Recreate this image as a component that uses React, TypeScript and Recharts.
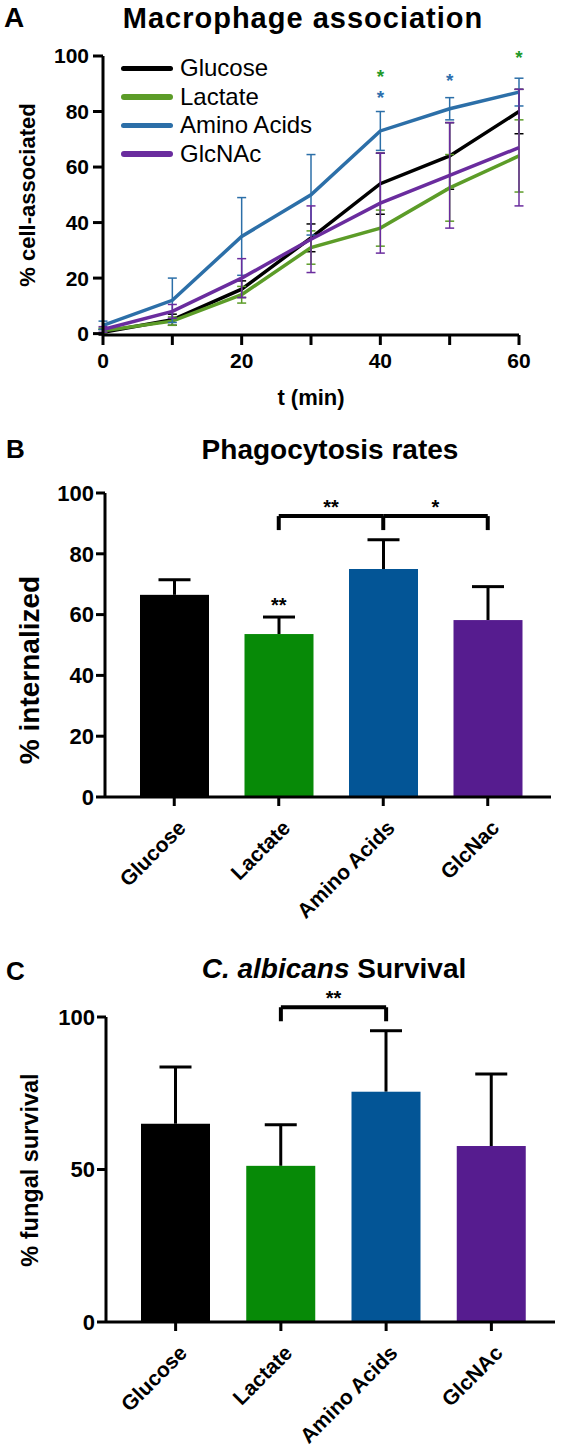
import {
  LineChart,
  Line,
  BarChart,
  Bar,
  Cell,
  XAxis,
  YAxis,
  ErrorBar,
  ReferenceDot,
  ReferenceLine,
} from "recharts";

const FONT = '"Liberation Sans", Arial, Helvetica, sans-serif';

// panel A: macrophage association over time
const times = [0, 10, 20, 30, 40, 50, 60];
const glucose = [0.5, 5, 16, 34.5, 54, 64, 80];
const glucoseSd = [1, 2, 3, 5, 11, 12, 8];
const lactate = [1, 4.5, 14, 31, 38, 52.5, 64];
const lactateSd = [1, 1.5, 3, 6, 6.5, 12, 13];
const amino = [3, 12, 35, 50, 73, 81, 87];
const aminoSd = [1.5, 8, 14, 14.5, 7, 4, 5];
const glcnac = [1.5, 8, 20, 34, 47, 57, 67];
const glcnacSd = [1, 2.5, 7, 12, 18, 19, 21];

const starTimes = [40, 40, 50, 60];
const starValues = [94.5, 87, 93, 101.5];
const starSeries = ["lactate", "amino", "amino", "lactate"];

// panels B and C
const groupsB = ["Glucose", "Lactate", "Amino Acids", "GlcNac"];
const internalized = [66.5, 53.6, 75, 58.2];
const internalizedSd = [5, 5.6, 9.6, 11];
const groupsC = ["Glucose", "Lactate", "Amino Acids", "GlcNAc"];
const survival = [65, 51.2, 75.5, 57.7];
const survivalSd = [18.6, 13.5, 20, 23.6];

const series = [
  { key: "glucose", name: "Glucose", color: "#000000" },
  { key: "lactate", name: "Lactate", color: "#5c9c28" },
  { key: "amino", name: "Amino Acids", color: "#2c6fa8" },
  { key: "glcnac", name: "GlcNAc", color: "#6a2c9e" },
];
const starColor: Record<string, string> = { lactate: "#1f9a2a", amino: "#2d6fae" };
const barColors = ["#000000", "#078a07", "#035596", "#561c8f"];

const lineData = times.map((t, i) => ({
  t,
  glucose: glucose[i],
  glucoseSd: glucoseSd[i],
  lactate: lactate[i],
  lactateSd: lactateSd[i],
  amino: amino[i],
  aminoSd: aminoSd[i],
  glcnac: glcnac[i],
  glcnacSd: glcnacSd[i],
}));
const dataB = groupsB.map((name, i) => ({ name, mean: internalized[i], sd: internalizedSd[i] }));
const dataC = groupsC.map((name, i) => ({ name, mean: survival[i], sd: survivalSd[i] }));

const axisStyle = { stroke: "#000", strokeWidth: 3 };
const tickA = { fill: "#000", fontSize: 21, fontWeight: 700, fontFamily: FONT };
const tickBC = { fill: "#000", fontSize: 22, fontWeight: 700, fontFamily: FONT };
const starFont = { fill: "#000", fontSize: 20, fontWeight: 700, fontFamily: FONT };

// bar with a one-sided (upward) SD whisker
const SdBar = (props: any) => {
  const { x, y, width, height, fill, payload } = props;
  const unit = payload.mean ? height / payload.mean : 0;
  const top = y - payload.sd * unit;
  const cx = x + width / 2;
  return (
    <g>
      <line x1={cx} y1={y} x2={cx} y2={top} stroke="#000" strokeWidth={3} />
      <line x1={cx - 16} y1={top} x2={cx + 16} y2={top} stroke="#000" strokeWidth={3} />
      <rect x={x} y={y} width={width} height={height} fill={fill} />
    </g>
  );
};

const SlantTick = (props: any) => {
  const { x, y, payload } = props;
  return (
    <text
      x={x}
      y={y}
      dx={-6}
      dy={24}
      transform={`rotate(-45 ${x} ${y})`}
      textAnchor="end"
      fontSize={21}
      fontWeight={700}
      fontFamily={FONT}
      fill="#000"
    >
      {payload.value}
    </text>
  );
};

const bracketLine = { stroke: "#000", strokeWidth: 4, ifOverflow: "visible" as const };

function ChartA() {
  return (
    <div style={{ position: "absolute", left: 0, top: 0 }}>
      <LineChart width={566} height={420} data={lineData} margin={{ top: 56, right: 47, left: 10, bottom: 15 }}>
        <XAxis
          dataKey="t"
          type="number"
          domain={[0, 60]}
          ticks={times}
          tickFormatter={(v: number) => (v % 20 === 0 ? String(v) : "")}
          axisLine={axisStyle}
          tickLine={axisStyle}
          tickSize={10}
          tickMargin={8}
          tick={tickA}
          height={70}
          label={{ value: "t (min)", position: "insideBottom", offset: 0, style: { fill: "#000", fontSize: 22, fontWeight: 700, fontFamily: FONT } }}
        />
        <YAxis
          domain={[0, 100]}
          ticks={[0, 20, 40, 60, 80, 100]}
          axisLine={axisStyle}
          tickLine={axisStyle}
          tickSize={10}
          tickMargin={4}
          tick={tickA}
          width={93}
        />
        {series.map((s) => (
          <Line
            key={s.key}
            dataKey={s.key}
            name={s.name}
            stroke={s.color}
            strokeWidth={3.5}
            dot={false}
            isAnimationActive={false}
          >
            <ErrorBar dataKey={`${s.key}Sd`} width={4.5} strokeWidth={1.5} stroke={s.color} direction="y" />
          </Line>
        ))}
        {starTimes.map((t, i) => (
          <ReferenceDot
            key={i}
            x={t}
            y={starValues[i]}
            r={1}
            fill="none"
            stroke="none"
            ifOverflow="visible"
            label={{ value: "*", position: "center", dy: 5, style: { ...starFont, fontSize: 19, fill: starColor[starSeries[i]] } }}
          />
        ))}
      </LineChart>
      <div style={{ position: "absolute", left: 121, top: 54 }}>
        {series.map((s) => (
          <div key={s.key} style={{ display: "flex", alignItems: "center", height: 28.6 }}>
            <div style={{ width: 52, height: 5.5, borderRadius: 3, background: s.color, marginRight: 7 }} />
            <span style={{ fontSize: 24, color: "#000", fontFamily: FONT }}>{s.name}</span>
          </div>
        ))}
      </div>
    </div>
  );
}

function ChartB() {
  return (
    <div style={{ position: "absolute", left: 0, top: 420 }}>
      <BarChart width={566} height={530} data={dataB} margin={{ top: 73, right: 15, left: 12, bottom: 63 }} barSize={69}>
        <XAxis
          dataKey="name"
          axisLine={axisStyle}
          tickLine={axisStyle}
          tickSize={9}
          interval={0}
          padding={{ left: 17, right: 11 }}
          tick={<SlantTick />}
          height={90}
        />
        <YAxis
          domain={[0, 100]}
          ticks={[0, 20, 40, 60, 80, 100]}
          axisLine={axisStyle}
          tickLine={axisStyle}
          tickSize={9}
          tick={tickBC}
          width={93}
        />
        <Bar dataKey="mean" shape={<SdBar />} isAnimationActive={false}>
          {dataB.map((d, i) => (
            <Cell key={d.name} fill={barColors[i]} />
          ))}
        </Bar>
        <ReferenceLine
          segment={[{ x: "Lactate", y: 92.4 }, { x: "Amino Acids", y: 92.4 }]}
          {...bracketLine}
          label={{ value: "**", position: "top", offset: 2, style: starFont }}
        />
        <ReferenceLine
          segment={[{ x: "Amino Acids", y: 92.4 }, { x: "GlcNac", y: 92.4 }]}
          {...bracketLine}
          label={{ value: "*", position: "top", offset: 2, style: starFont }}
        />
        <ReferenceLine segment={[{ x: "Lactate", y: 92.4 }, { x: "Lactate", y: 87.8 }]} {...bracketLine} />
        <ReferenceLine segment={[{ x: "Amino Acids", y: 92.4 }, { x: "Amino Acids", y: 87.8 }]} {...bracketLine} />
        <ReferenceLine segment={[{ x: "GlcNac", y: 92.4 }, { x: "GlcNac", y: 87.8 }]} {...bracketLine} />
        <ReferenceDot
          x="Lactate"
          y={65}
          r={1}
          fill="none"
          stroke="none"
          label={{ value: "**", position: "center", dy: 5, style: starFont }}
        />
      </BarChart>
    </div>
  );
}

function ChartC() {
  return (
    <div style={{ position: "absolute", left: 0, top: 900 }}>
      <BarChart width={566} height={552} data={dataC} margin={{ top: 117, right: 11, left: 13, bottom: 20 }} barSize={69}>
        <XAxis
          dataKey="name"
          axisLine={axisStyle}
          tickLine={axisStyle}
          tickSize={9}
          interval={0}
          padding={{ left: 17, right: 11 }}
          tick={<SlantTick />}
          height={110}
        />
        <YAxis
          domain={[0, 100]}
          ticks={[0, 50, 100]}
          axisLine={axisStyle}
          tickLine={axisStyle}
          tickSize={9}
          tick={tickBC}
          width={93}
        />
        <Bar dataKey="mean" shape={<SdBar />} isAnimationActive={false}>
          {dataC.map((d, i) => (
            <Cell key={d.name} fill={barColors[i]} />
          ))}
        </Bar>
        <ReferenceLine
          segment={[{ x: "Lactate", y: 103.2 }, { x: "Amino Acids", y: 103.2 }]}
          {...bracketLine}
          label={{ value: "**", position: "top", offset: 2, style: starFont }}
        />
        <ReferenceLine segment={[{ x: "Lactate", y: 103.2 }, { x: "Lactate", y: 98.6 }]} {...bracketLine} />
        <ReferenceLine segment={[{ x: "Amino Acids", y: 103.2 }, { x: "Amino Acids", y: 98.6 }]} {...bracketLine} />
      </BarChart>
    </div>
  );
}

function YTitle({ x, y, size, text }: { x: number; y: number; size: number; text: string }) {
  return (
    <text
      transform={`translate(${x},${y}) rotate(-90)`}
      textAnchor="middle"
      dominantBaseline="central"
      fontSize={size}
      fontWeight={700}
      fill="#000"
    >
      {text}
    </text>
  );
}

function Overlay() {
  return (
    <svg
      width={566}
      height={1452}
      style={{ position: "absolute", left: 0, top: 0, pointerEvents: "none" }}
      fontFamily={FONT}
    >
      <text x={4} y={27} fontSize={28} fontWeight={700}>A</text>
      <text x={303} y={28} fontSize={29} fontWeight={700} textAnchor="middle" style={{ letterSpacing: 1 }}>
        Macrophage association
      </text>
      <text x={6} y={458} fontSize={26} fontWeight={700}>B</text>
      <text x={330} y={459} fontSize={28} fontWeight={700} textAnchor="middle">Phagocytosis rates</text>
      <text x={6} y={980} fontSize={26} fontWeight={700}>C</text>
      <text x={334} y={978} fontSize={28} fontWeight={700} textAnchor="middle">
        <tspan fontStyle="italic">C. albicans</tspan> Survival
      </text>
      <YTitle x={27} y={195} size={22} text="% cell-associated" />
      <YTitle x={29} y={670} size={28} text="% internalized" />
      <YTitle x={30} y={1170} size={23.5} text="% fungal survival" />
    </svg>
  );
}

export default function App() {
  return (
    <div
      style={{
        position: "absolute",
        left: 0,
        top: 0,
        width: 566,
        height: 1452,
        background: "#fff",
        fontFamily: FONT,
        color: "#000",
      }}
    >
      <ChartA />
      <ChartB />
      <ChartC />
      <Overlay />
    </div>
  );
}
